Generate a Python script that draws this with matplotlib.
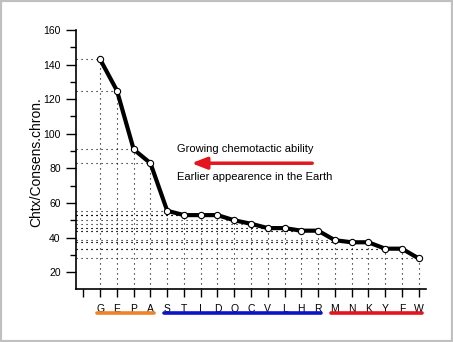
import matplotlib
matplotlib.use("Agg")
import matplotlib.pyplot as plt
import matplotlib.transforms as mtransforms
from matplotlib.patches import Rectangle

plt.rcParams["font.family"] = ["Liberation Sans", "DejaVu Sans"]

# amino acids ordered by chemotaxis / consensus chronology ratio
residues = ["G", "E", "P", "A", "S", "T", "I", "D", "Q", "C",
            "V", "L", "H", "R", "M", "N", "K", "Y", "F", "W"]
ratio = [143, 125, 91, 83, 55.5, 53, 53, 53, 50, 48,
         45.5, 45.5, 44, 44, 38.5, 37.3, 37.3, 33.6, 33.6, 28]

# coloured groups under the axis: (first residue, last residue, colour)
groups = [("G", "A", "#f08228"), ("S", "R", "#0a14c8"), ("M", "W", "#e6141e")]

xpos = list(range(1, len(residues) + 1))
ymin, ymax = 10.3, 160
xmin, xmax = -0.44, 20.44

fig = plt.figure(figsize=(4.53, 3.42), dpi=100)
ax = fig.add_axes([0.1678, 0.155, 0.7726, 0.7573])

# dotted guides from each point to both axes
for x, y in zip(xpos, ratio):
    ax.plot([xmin, x], [y, y], color="black", lw=0.8, ls=(0, (1, 3.5)), zorder=1)
    ax.plot([x, x], [ymin, y], color="black", lw=0.8, ls=(0, (1, 3.5)), zorder=1)

ax.plot(xpos, ratio, color="black", lw=3, zorder=2)
ax.plot(xpos, ratio, ls="none", marker="o", ms=4.5, mfc="white", mec="black",
        mew=0.8, zorder=3)

ax.set_xlim(xmin, xmax)
ax.set_ylim(ymin, ymax)
ax.set_xticks([0] + xpos)
ax.set_xticklabels([""] + residues)
ax.set_yticks(range(20, 161, 20))
ax.set_yticks(range(30, 160, 20), minor=True)
ax.tick_params(axis="both", which="major", labelsize=7.5, direction="out",
               length=7, width=1, color="black", pad=4)
ax.tick_params(axis="y", which="minor", length=4, width=1)
ax.tick_params(axis="x", length=6, pad=5)

for side in ["top", "right"]:
    ax.spines[side].set_visible(False)
for side in ["left", "bottom"]:
    ax.spines[side].set_linewidth(1.2)

fig.text(36 / 453, 1 - 162 / 342, "Chtx/Consens.chron.", rotation=90,
         ha="center", va="center", fontsize=10)

# red arrow with its two captions
ax.annotate("", xy=(6.45, 83), xytext=(13.65, 83),
            arrowprops=dict(arrowstyle="-|>,head_length=0.9,head_width=0.35",
                            color="#e6141e", lw=2.5, shrinkA=0, shrinkB=0))
ax.text(5.6, 91, "Growing chemotactic ability", fontsize=8, ha="left",
        va="center")
ax.text(5.6, 75, "Earlier appearence in the Earth", fontsize=8, ha="left",
        va="center")

trans = mtransforms.blended_transform_factory(ax.transData, ax.transAxes)
for first, last, color in groups:
    x0 = residues.index(first) + 1 - 0.2
    x1 = residues.index(last) + 1 + 0.2
    ax.plot([x0, x1], [-0.093, -0.093], transform=trans, color=color, lw=2.6,
            solid_capstyle="round", clip_on=False)

# light frame around the whole figure
fig.patches.append(Rectangle((0, 0), 1, 1, transform=fig.transFigure,
                             fill=False, edgecolor="#c0c0c0", lw=3))

fig.savefig("out.png", dpi=100)
